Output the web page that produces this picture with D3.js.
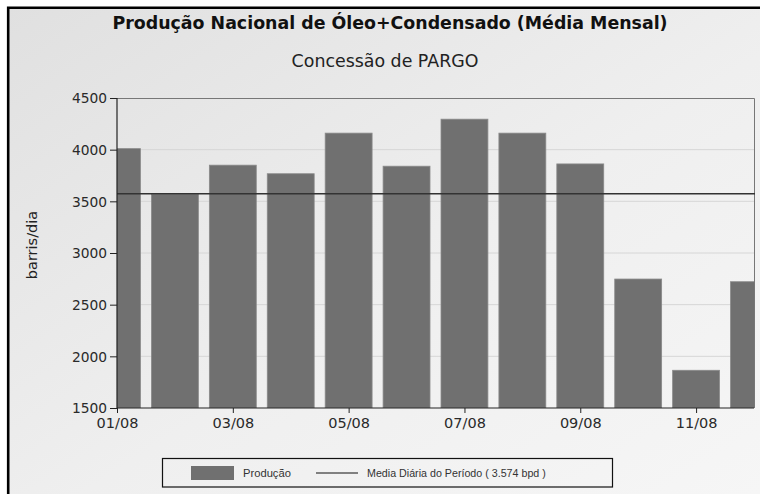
<!DOCTYPE html>
<html>
<head>
<meta charset="utf-8">
<script src="https://cdn.jsdelivr.net/npm/d3@7"></script>
<style>
  body { margin: 0; background: #fff; }
  svg { display: block; }
</style>
</head>
<body>
<svg id="chart" width="760" height="494"></svg>
<script>
// dados
var meses = ['01/08', '02/08', '03/08', '04/08', '05/08', '06/08', '07/08', '08/08', '09/08', '10/08', '11/08', '12/08'];
var producao = [4010, 3570, 3850, 3767, 4160, 3840, 4295, 4160, 3862, 2748, 1865, 2722];
var mediaPeriodo = 3574;
var yTicks = [1500, 2000, 2500, 3000, 3500, 4000, 4500];
var xTickIdx = [0, 2, 4, 6, 8, 10];

var titulo = 'Produção Nacional de Óleo+Condensado (Média Mensal)';
var subtitulo = 'Concessão de PARGO';
var legendaBarra = 'Produção';
var legendaLinha = 'Media Diária do Período ( 3.574 bpd )';

(function(){
  var svg = d3.select('#chart');
  var pL = 117, pR = 754, pT = 98, pB = 408;
  var fonte = 'DejaVu Sans, Verdana, sans-serif';

  var defs = svg.append('defs');
  var grad = defs.append('linearGradient').attr('id', 'bg')
    .attr('x1', '0%').attr('y1', '0%').attr('x2', '100%').attr('y2', '100%');
  grad.append('stop').attr('offset', '0%').attr('stop-color', '#e0e0e0');
  grad.append('stop').attr('offset', '55%').attr('stop-color', '#efefef');
  grad.append('stop').attr('offset', '100%').attr('stop-color', '#f6f6f6');
  defs.append('clipPath').attr('id', 'plot')
    .append('rect').attr('x', pL).attr('y', pT).attr('width', pR - pL).attr('height', pB - pT);

  // fundo + moldura (so topo e esquerda aparecem)
  svg.append('rect').attr('x', 8).attr('y', 7).attr('width', 752).attr('height', 487).attr('fill', 'url(#bg)');
  svg.append('path').attr('d', 'M8.2,494V7.8H760').attr('fill', 'none').attr('stroke', '#000').attr('stroke-width', 2.6);

  var x = d3.scaleLinear().domain([0, meses.length - 1]).range([pL, pR]);
  var y = d3.scaleLinear().domain([1500, 4500]).range([pB, pT]);

  // grade
  svg.append('g').selectAll('line').data(yTicks.slice(1, -1)).enter().append('line')
    .attr('x1', pL).attr('x2', pR)
    .attr('y1', function(d){ return y(d); }).attr('y2', function(d){ return y(d); })
    .attr('stroke', '#d6d6d6').attr('stroke-width', 1);

  // barras
  var bw = x(0.81) - x(0);
  svg.append('g').attr('clip-path', 'url(#plot)').selectAll('rect').data(producao).enter().append('rect')
    .attr('x', function(d, i){ return x(i) - bw / 2; })
    .attr('y', function(d){ return y(d); })
    .attr('width', bw)
    .attr('height', function(d){ return pB - y(d); })
    .attr('fill', '#707070')
    .attr('stroke', '#8a8a8a').attr('stroke-width', 0.8);

  // moldura do plot (topo e direita)
  svg.append('path').attr('d', 'M' + pL + ',' + (pT + 0.5) + 'H' + (pR + 0.5) + 'V' + pB)
    .attr('fill', 'none').attr('stroke', '#777').attr('stroke-width', 1);

  // linha da media
  svg.append('line').attr('x1', pL).attr('x2', pR + 1)
    .attr('y1', y(mediaPeriodo)).attr('y2', y(mediaPeriodo))
    .attr('stroke', '#333').attr('stroke-width', 1.6);

  // eixos
  var yAxis = d3.axisLeft(y).tickValues(yTicks).tickSize(7).tickPadding(3).tickFormat(d3.format('d'));
  var gy = svg.append('g').attr('transform', 'translate(' + pL + ',0)').call(yAxis);
  var xAxis = d3.axisBottom(x).tickValues(xTickIdx).tickSize(5).tickPadding(5)
    .tickFormat(function(i){ return meses[i]; });
  var gx = svg.append('g').attr('transform', 'translate(0,' + pB + ')').call(xAxis);
  [gy, gx].forEach(function(g){
    g.select('.domain').attr('stroke', '#222').attr('stroke-width', 1.2);
    g.selectAll('.tick line').attr('stroke', '#222');
    g.selectAll('.tick text').attr('fill', '#2a2a2a')
      .style('font-family', fonte).style('font-size', '14px');
  });
  gy.selectAll('.tick text').style('font-size', '13.8px').attr('dy', '0.36em');
  gy.select('.domain').attr('d', 'M0,' + pB + 'V' + pT);
  gx.select('.domain').attr('d', 'M' + pL + ',0H' + pR);
  gx.selectAll('.tick text').style('font-size', '14.5px').attr('dy', '0.72em');

  // textos
  svg.append('text').attr('x', 390).attr('y', 29).attr('text-anchor', 'middle')
    .style('font-family', fonte).style('font-weight', 'bold').style('font-size', '17.4px')
    .attr('fill', '#111').text(titulo);
  svg.append('text').attr('x', 385).attr('y', 67).attr('text-anchor', 'middle')
    .style('font-family', fonte).style('font-size', '17.4px')
    .attr('fill', '#222').text(subtitulo);
  svg.append('text').attr('transform', 'translate(37,245) rotate(-90)').attr('text-anchor', 'middle')
    .style('font-family', fonte).style('font-size', '14.5px')
    .attr('fill', '#222').text('barris/dia');

  // legenda
  var lg = svg.append('g');
  var fl = 'Liberation Sans, Arial, sans-serif';
  lg.append('rect').attr('x', 162.5).attr('y', 458.5).attr('width', 450).attr('height', 28.5)
    .attr('fill', 'none').attr('stroke', '#111').attr('stroke-width', 1.2);
  lg.append('rect').attr('x', 191).attr('y', 466).attr('width', 43).attr('height', 14).attr('fill', '#707070');
  lg.append('text').attr('x', 243).attr('y', 477)
    .style('font-family', fl).style('font-size', '11.2px')
    .attr('fill', '#333').text(legendaBarra);
  lg.append('line').attr('x1', 316).attr('x2', 358).attr('y1', 473).attr('y2', 473)
    .attr('stroke', '#111').attr('stroke-width', 1.2);
  lg.append('text').attr('x', 367).attr('y', 477)
    .style('font-family', fl).style('font-size', '10.7px')
    .attr('fill', '#333').text(legendaLinha);
})();
</script>
</body>
</html>
